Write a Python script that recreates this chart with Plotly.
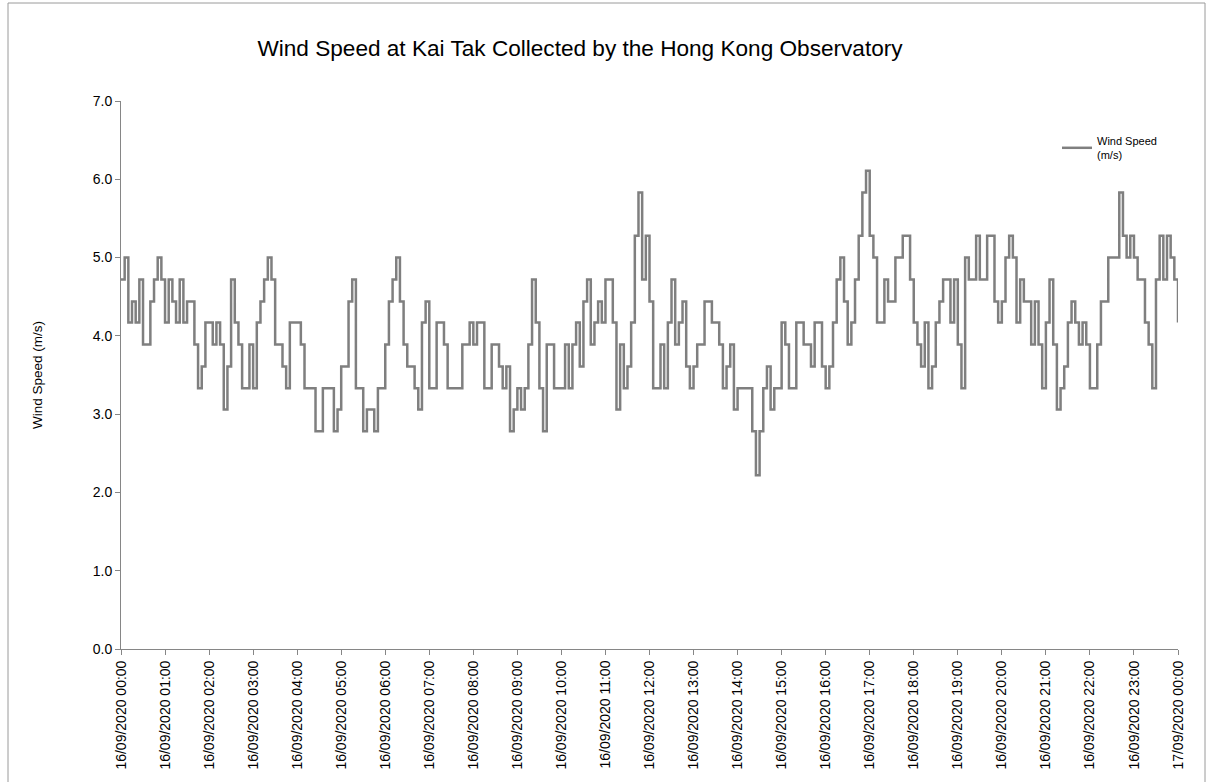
import plotly.graph_objects as go
import pandas as pd

# Wind speed (m/s) at 5-minute intervals, 16/09/2020 00:00 -> 17/09/2020 00:00
wind_speed = [
    4.72, 5.00, 4.17, 4.44, 4.17, 4.72, 3.89, 3.89, 4.44, 4.72, 5.00, 4.72,
    4.17, 4.72, 4.44, 4.17, 4.72, 4.17, 4.44, 4.44, 3.89, 3.33, 3.61, 4.17,
    4.17, 3.89, 4.17, 3.89, 3.06, 3.61, 4.72, 4.17, 3.89, 3.33, 3.33, 3.89,
    3.33, 4.17, 4.44, 4.72, 5.00, 4.72, 3.89, 3.89, 3.61, 3.33, 4.17, 4.17,
    4.17, 3.89, 3.33, 3.33, 3.33, 2.78, 2.78, 3.33, 3.33, 3.33, 2.78, 3.06,
    3.61, 3.61, 4.44, 4.72, 3.33, 3.33, 2.78, 3.06, 3.06, 2.78, 3.33, 3.33,
    3.89, 4.44, 4.72, 5.00, 4.44, 3.89, 3.61, 3.61, 3.33, 3.06, 4.17, 4.44,
    3.33, 3.33, 4.17, 4.17, 3.89, 3.33, 3.33, 3.33, 3.33, 3.89, 3.89, 4.17,
    3.89, 4.17, 4.17, 3.33, 3.33, 3.89, 3.89, 3.61, 3.33, 3.61, 2.78, 3.06,
    3.33, 3.06, 3.33, 3.89, 4.72, 4.17, 3.33, 2.78, 3.89, 3.89, 3.33, 3.33,
    3.33, 3.89, 3.33, 3.89, 4.17, 3.61, 4.44, 4.72, 3.89, 4.17, 4.44, 4.17,
    4.72, 4.72, 4.17, 3.06, 3.89, 3.33, 3.61, 4.17, 5.28, 5.83, 4.72, 5.28,
    4.44, 3.33, 3.33, 3.89, 3.33, 4.17, 4.72, 3.89, 4.17, 4.44, 3.61, 3.33,
    3.61, 3.89, 3.89, 4.44, 4.44, 4.17, 4.17, 3.89, 3.33, 3.61, 3.89, 3.06,
    3.33, 3.33, 3.33, 3.33, 2.78, 2.22, 2.78, 3.33, 3.61, 3.06, 3.33, 3.33,
    4.17, 3.89, 3.33, 3.33, 4.17, 4.17, 3.89, 3.89, 3.61, 4.17, 4.17, 3.61,
    3.33, 3.61, 4.17, 4.72, 5.00, 4.44, 3.89, 4.17, 4.72, 5.28, 5.83, 6.11,
    5.28, 5.00, 4.17, 4.17, 4.72, 4.44, 4.44, 5.00, 5.00, 5.28, 5.28, 4.72,
    4.17, 3.89, 3.61, 4.17, 3.33, 3.61, 4.17, 4.44, 4.72, 4.72, 4.17, 4.72,
    3.89, 3.33, 5.00, 4.72, 4.72, 5.28, 4.72, 4.72, 5.28, 5.28, 4.44, 4.17,
    4.44, 5.00, 5.28, 5.00, 4.17, 4.72, 4.44, 4.44, 3.89, 4.44, 3.89, 3.33,
    4.17, 4.72, 3.89, 3.06, 3.33, 3.61, 4.17, 4.44, 4.17, 3.89, 4.17, 3.89,
    3.33, 3.33, 3.89, 4.44, 4.44, 5.00, 5.00, 5.00, 5.83, 5.28, 5.00, 5.28,
    5.00, 4.72, 4.72, 4.17, 3.89, 3.33, 4.72, 5.28, 4.72, 5.28, 5.00, 4.72,
    4.17,
]
start_time = "2020-09-16 00:00"
end_time = "2020-09-17 00:00"
times = pd.date_range(start_time, periods=len(wind_speed), freq="5min")

title_text = "Wind Speed at Kai Tak Collected by the Hong Kong Observatory"
y_title = "Wind Speed (m/s)"
series_name = "Wind Speed<br>(m/s)"

FONT = "Liberation Sans"
AXIS_COLOR = "#868686"
LINE_COLOR = "#7f7f7f"

W, H = 1207, 782
L, R, T, B = 121, 1178, 101, 649

fig = go.Figure()
fig.add_trace(go.Scatter(
    x=times, y=wind_speed, mode="lines", name=series_name,
    line=dict(color=LINE_COLOR, width=2.5, shape="hv"),
))

fig.update_layout(
    width=W, height=H, autosize=False,
    margin=dict(l=L, r=W - R, t=T, b=H - B, pad=0),
    paper_bgcolor="white", plot_bgcolor="white",
    font=dict(family=FONT, color="#000000", size=14),
    title=dict(text=title_text, x=580 / W, xanchor="center", xref="container",
               y=1 - 48 / H, yanchor="middle", yref="container",
               font=dict(size=22.6, family=FONT, color="#000000")),
    showlegend=True,
    legend=dict(x=(1057 - L) / (R - L), y=(B - 127) / (B - T), xanchor="left", yanchor="top",
                bgcolor="rgba(0,0,0,0)", borderwidth=0,
                font=dict(size=11, family=FONT)),
    xaxis=dict(
        type="date", range=[start_time, end_time],
        tickmode="linear", tick0=start_time, dtick=3600000,
        tickformat="%d/%m/%Y %H:%M", tickangle=-90,
        showgrid=False, zeroline=False,
        showline=True, linecolor=AXIS_COLOR, linewidth=1,
        ticks="outside", ticklen=5, tickcolor=AXIS_COLOR,
        tickfont=dict(size=14, family=FONT),
    ),
    yaxis=dict(
        range=[0, 7], tickmode="linear", tick0=0, dtick=1, tickformat=".1f",
        showgrid=False, zeroline=False,
        showline=True, linecolor=AXIS_COLOR, linewidth=1,
        ticks="outside", ticklen=5, tickcolor=AXIS_COLOR,
        tickfont=dict(size=14, family=FONT),
        title=dict(text=y_title, font=dict(size=13.5, family=FONT), standoff=47),
    ),
)

# outer chart-area frame
fig.add_shape(type="rect", xref="paper", yref="paper",
              x0=(8 - L) / (R - L), x1=(1205 - L) / (R - L),
              y0=(B - 790) / (B - T), y1=(B - 3) / (B - T),
              line=dict(color="#9a9a9a", width=1), fillcolor="rgba(0,0,0,0)",
              layer="below")

fig.write_html("out.html", config={"displayModeBar": False},
               post_script="document.body.style.margin='0';")
